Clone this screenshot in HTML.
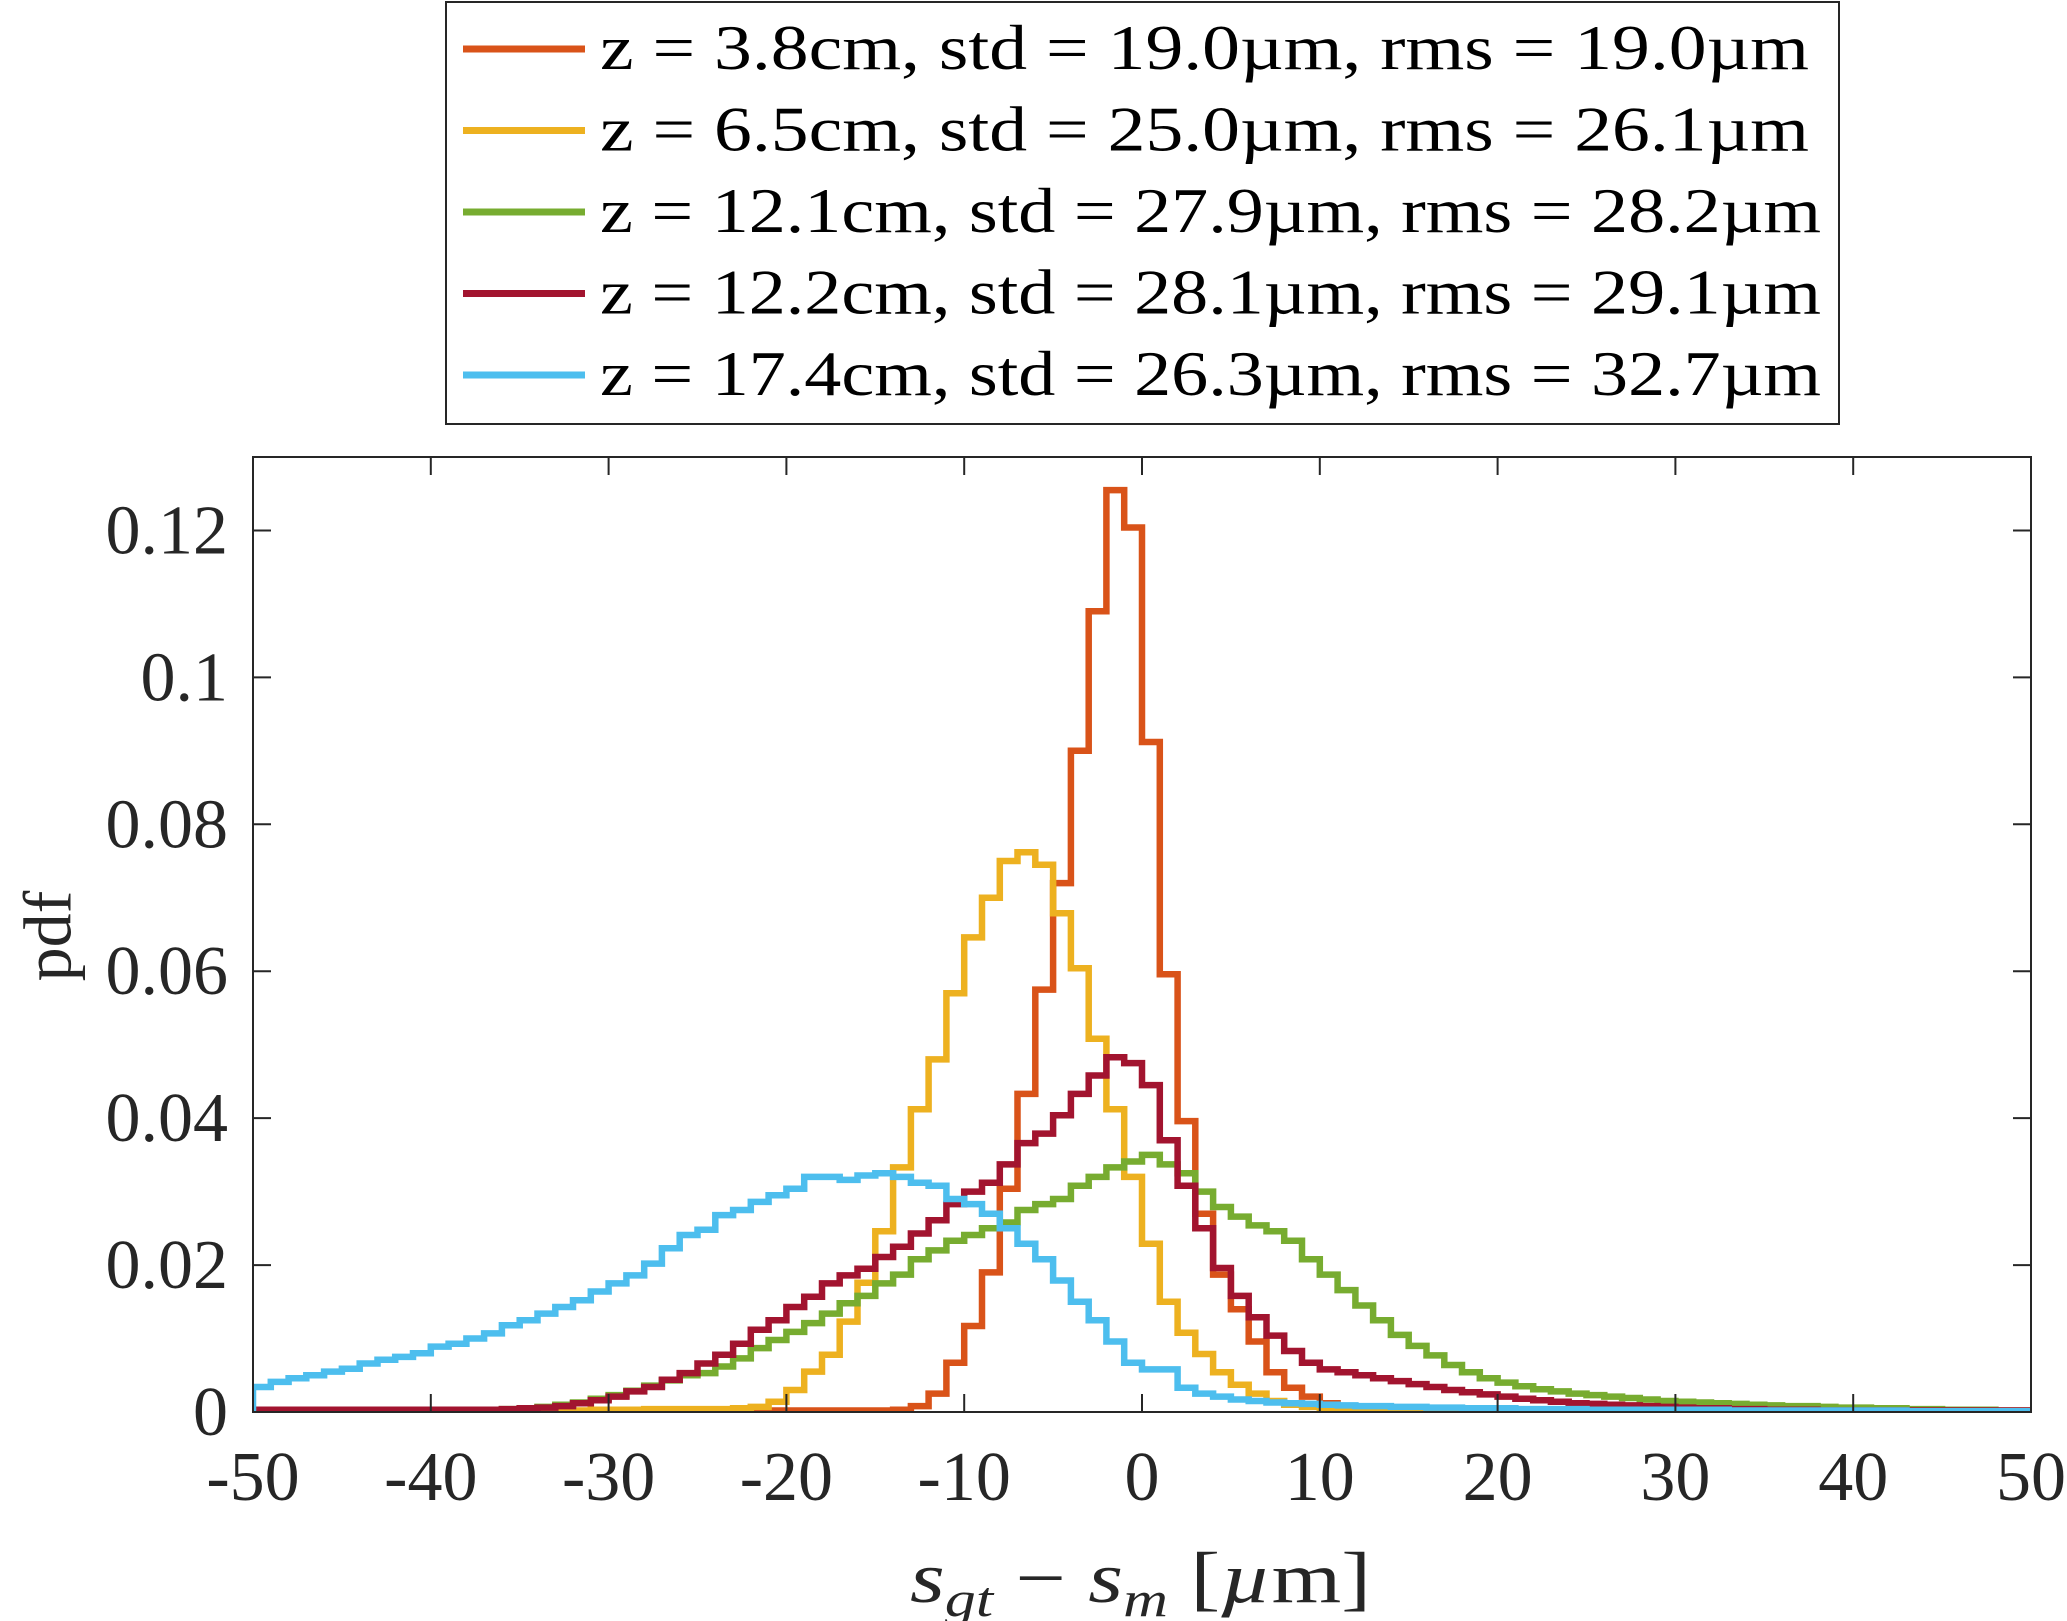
<!DOCTYPE html>
<html><head><meta charset="utf-8"><style>
html,body{margin:0;padding:0;background:#fff;}
svg{display:block;font-family:"Liberation Serif",serif;}
</style></head><body>
<svg id="chart" width="2067" height="1621" viewBox="0 0 2067 1621" xmlns="http://www.w3.org/2000/svg">
<defs><clipPath id="plotclip"><rect x="253" y="457" width="1778" height="955"/></clipPath></defs>
<rect x="0" y="0" width="2067" height="1621" fill="#fff"/>
<g id="series" clip-path="url(#plotclip)"></g>
<rect x="253" y="457" width="1778" height="955" fill="none" stroke="#262626" stroke-width="2"/>
<g id="ticks"></g>
<text x="55" y="936" font-size="68" fill="#262626" text-anchor="middle" dominant-baseline="middle" transform="rotate(-90 55 936)">pdf</text>
<text x="910" y="1602" font-size="72" fill="#262626" textLength="461" lengthAdjust="spacingAndGlyphs"><tspan font-style="italic">s</tspan><tspan font-style="italic" font-size="50" dy="14">gt</tspan><tspan dy="-14"> − </tspan><tspan font-style="italic">s</tspan><tspan font-style="italic" font-size="50" dy="14">m</tspan><tspan dy="-14"> [</tspan><tspan font-style="italic">µ</tspan><tspan>m]</tspan></text>
<g id="legend">
<rect x="446" y="2" width="1393" height="422" fill="#fff" stroke="#262626" stroke-width="2"/>
</g>
</svg>
<script>
const binStart = -50;
const binWidth = 1;
const xTicks = [-50,-40,-30,-20,-10,0,10,20,30,40,50];
const xTickLabels = ["-50","-40","-30","-20","-10","0","10","20","30","40","50"];
const yTicks = [0,0.02,0.04,0.06,0.08,0.1,0.12];
const yTickLabels = ["0","0.02","0.04","0.06","0.08","0.1","0.12"];
const seriesNames = ["z = 3.8cm,  std = 19.0µm, rms = 19.0µm","z = 6.5cm,  std = 25.0µm, rms = 26.1µm","z = 12.1cm, std = 27.9µm, rms = 28.2µm","z = 12.2cm, std = 28.1µm, rms = 29.1µm","z = 17.4cm, std = 26.3µm, rms = 32.7µm"];
const seriesColors = ["#D95319","#EDB120","#77AC30","#A2142F","#4DBEEE"];
const orangeValues = [
0.0001,0.0001,0.0001,0.0001,0.0001,0.0001,0.0001,0.0001,0.0001,0.0001,
0.0001,0.0001,0.0001,0.0001,0.0001,0.0001,0.0001,0.0001,0.0001,0.0001,
0.0001,0.0001,0.0001,0.0001,0.0001,0.0001,0.0002,0.0002,0.0002,0.0002,
0.0002,0.0002,0.0002,0.0002,0.0002,0.0002,0.0003,0.0008,0.0025,0.0067,
0.0117,0.019,0.0304,0.0433,0.0575,0.072,0.090,0.109,0.1255,0.1204,
0.0912,0.0596,0.0396,0.027,0.0187,0.014,0.0096,0.0054,0.0033,0.0021,
0.0012,0.0007,0.0004,0.0003,0.0003,0.0002,0.0002,0.0002,0.0002,0.0002,
0.0002,0.0002,0.0001,0.0001,0.0001,0.0001,0.0001,0.0001,0.0001,0.0001,
0.0001,0.0001,0.0001,0.0001,0.0001,0.0001,0.0001,0.0001,0.0001,0.0001,
0.0001,0.0001,0.0001,0.0001,0.0001,0.0001,0.0001,0.0001,0.0001,0.0001];
const yellowValues = [
0.0001,0.0001,0.0001,0.0001,0.0001,0.0001,0.0001,0.0001,0.0001,0.0001,
0.0001,0.0001,0.0001,0.0001,0.0001,0.0002,0.0002,0.0002,0.0002,0.0003,
0.0003,0.0003,0.0004,0.0004,0.0004,0.0004,0.0004,0.0005,0.0007,0.0014,
0.003,0.0055,0.0078,0.0123,0.0176,0.0246,0.0333,0.0412,0.048,0.057,
0.0646,0.070,0.075,0.0762,0.0745,0.0679,0.0604,0.0508,0.0412,0.032,
0.0229,0.015,0.0108,0.0079,0.0054,0.0037,0.0025,0.0015,0.001,0.0007,
0.0005,0.0004,0.0003,0.0003,0.0002,0.0002,0.0002,0.0002,0.0002,0.0002,
0.0002,0.0002,0.0002,0.0002,0.0002,0.0001,0.0001,0.0001,0.0001,0.0001,
0.0001,0.0001,0.0001,0.0001,0.0001,0.0001,0.0001,0.0001,0.0001,0.0001,
0.0001,0.0001,0.0001,0.0001,0.0001,0.0001,0.0001,0.0001,0.0001,0.0001];
const greenValues = [
0.0002,0.0002,0.0002,0.0002,0.0002,0.0002,0.0002,0.0002,0.0002,0.0002,
0.0002,0.0002,0.0003,0.0003,0.0004,0.0005,0.0007,0.0010,0.0013,0.0018,
0.0023,0.0029,0.0036,0.0043,0.005,0.0053,0.0062,0.0073,0.0087,0.0098,
0.0109,0.0121,0.0134,0.0148,0.0158,0.0175,0.0187,0.0208,0.022,0.0233,
0.0241,0.025,0.0258,0.0275,0.0283,0.029,0.0308,0.032,0.0333,0.0341,
0.035,0.0337,0.0325,0.030,0.0279,0.0266,0.0254,0.0246,0.0233,0.0208,
0.0187,0.0166,0.0145,0.0125,0.0105,0.009,0.0077,0.0064,0.0054,0.0046,
0.0040,0.0035,0.0031,0.0028,0.0025,0.0023,0.0021,0.0019,0.0017,0.0015,
0.0014,0.0013,0.0012,0.0011,0.0010,0.0009,0.0008,0.0008,0.0007,0.0006,
0.0006,0.0005,0.0005,0.0004,0.0004,0.0003,0.0003,0.0003,0.0002,0.0002];
const redValues = [
0.0003,0.0003,0.0003,0.0003,0.0003,0.0003,0.0003,0.0003,0.0003,0.0003,
0.0003,0.0003,0.0003,0.0003,0.0004,0.0005,0.0006,0.0008,0.0012,0.0016,
0.0021,0.0028,0.0034,0.0044,0.0053,0.0066,0.0078,0.0093,0.0112,0.0125,
0.0143,0.0157,0.0175,0.0186,0.0195,0.0211,0.0225,0.0243,0.0261,0.0283,
0.030,0.0312,0.0337,0.0366,0.0379,0.0404,0.0433,0.0458,0.0483,0.0475,
0.0445,0.037,0.0308,0.025,0.0196,0.0158,0.0129,0.0104,0.0083,0.0067,
0.0058,0.0054,0.005,0.0046,0.0042,0.0038,0.0034,0.003,0.0027,0.0024,
0.0021,0.0018,0.0016,0.0014,0.0012,0.0011,0.001,0.0009,0.0008,0.0007,
0.0006,0.0005,0.0005,0.0004,0.0004,0.0003,0.0003,0.0003,0.0002,0.0002,
0.0002,0.0002,0.0002,0.0002,0.0002,0.0002,0.0002,0.0002,0.0002,0.0002];
const blueValues = [
0.0034,0.0041,0.0046,0.005,0.0055,0.0059,0.0066,0.0071,0.0075,0.008,
0.0089,0.0093,0.01,0.0107,0.0118,0.0125,0.0134,0.0143,0.0152,0.0164,
0.0175,0.0186,0.0202,0.0223,0.0241,0.0248,0.0268,0.0275,0.0286,0.0295,
0.0304,0.032,0.032,0.0316,0.0322,0.0325,0.032,0.0312,0.0308,0.029,
0.0283,0.027,0.025,0.0229,0.0208,0.0179,0.015,0.0125,0.0096,0.0067,
0.0058,0.0058,0.0033,0.0025,0.0021,0.0017,0.0015,0.0013,0.0012,0.0011,
0.001,0.0009,0.0008,0.0008,0.0007,0.0007,0.0006,0.0006,0.0005,0.0005,
0.0005,0.0004,0.0004,0.0004,0.0004,0.0003,0.0003,0.0003,0.0003,0.0003,
0.0003,0.0003,0.0003,0.0002,0.0002,0.0002,0.0002,0.0002,0.0002,0.0002,
0.0002,0.0002,0.0002,0.0001,0.0001,0.0001,0.0001,0.0001,0.0001,0.0001];
const allSeries = [orangeValues,yellowValues,greenValues,redValues,blueValues];
const seriesKeys = ["orange","yellow","green","red","blue"];

const NS = "http://www.w3.org/2000/svg";
const X0 = 253, X1 = 2031, Y0 = 1412, Y1 = 457;
const xMin = -50, xMax = 50, yMin = 0, yMax = 0.13;
function xs(v){ return X0 + (v - xMin) / (xMax - xMin) * (X1 - X0); }
function ys(v){ return Y0 - (v - yMin) / (yMax - yMin) * (Y0 - Y1); }
const seriesG = document.getElementById('series');
allSeries.forEach((vals, si) => {
  let d = "M" + xs(binStart) + " " + ys(0);
  vals.forEach((v, i) => {
    const a = binStart + i * binWidth, b = a + binWidth;
    d += " L" + xs(a).toFixed(1) + " " + ys(v).toFixed(1) + " L" + xs(b).toFixed(1) + " " + ys(v).toFixed(1);
  });
  d += " L" + xs(binStart + vals.length * binWidth) + " " + ys(0);
  const p = document.createElementNS(NS, 'path');
  p.setAttribute('d', d);
  p.setAttribute('fill', 'none');
  p.setAttribute('stroke', seriesColors[si]);
  p.setAttribute('stroke-width', '6.5');
  p.setAttribute('stroke-linejoin', 'miter');
  
  
  seriesG.appendChild(p);
});
const tg = document.getElementById('ticks');
xTicks.forEach((t, i) => {
  const x = xs(t);
  const l1 = document.createElementNS(NS, 'line');
  l1.setAttribute('x1', x); l1.setAttribute('x2', x); l1.setAttribute('y1', Y0); l1.setAttribute('y2', Y0 - 18);
  l1.setAttribute('stroke', '#262626'); l1.setAttribute('stroke-width', '2');
  
  
  tg.appendChild(l1);
  const l2 = document.createElementNS(NS, 'line');
  l2.setAttribute('x1', x); l2.setAttribute('x2', x); l2.setAttribute('y1', Y1); l2.setAttribute('y2', Y1 + 18);
  l2.setAttribute('stroke', '#262626'); l2.setAttribute('stroke-width', '2');
  
  
  tg.appendChild(l2);
  const tx = document.createElementNS(NS, 'text');
  tx.setAttribute('x', x); tx.setAttribute('y', 1500);
  tx.setAttribute('font-size', '70'); tx.setAttribute('fill', '#262626'); tx.setAttribute('text-anchor', 'middle');
  tx.textContent = xTickLabels[i];
  
  
  tg.appendChild(tx);
});
yTicks.forEach((t, i) => {
  const y = ys(t);
  const l1 = document.createElementNS(NS, 'line');
  l1.setAttribute('x1', X0); l1.setAttribute('x2', X0 + 18); l1.setAttribute('y1', y); l1.setAttribute('y2', y);
  l1.setAttribute('stroke', '#262626'); l1.setAttribute('stroke-width', '2');
  
  
  tg.appendChild(l1);
  const l2 = document.createElementNS(NS, 'line');
  l2.setAttribute('x1', X1); l2.setAttribute('x2', X1 - 18); l2.setAttribute('y1', y); l2.setAttribute('y2', y);
  l2.setAttribute('stroke', '#262626'); l2.setAttribute('stroke-width', '2');
  
  
  tg.appendChild(l2);
  const tx = document.createElementNS(NS, 'text');
  tx.setAttribute('x', 228); tx.setAttribute('y', y + 23);
  tx.setAttribute('font-size', '70'); tx.setAttribute('fill', '#262626'); tx.setAttribute('text-anchor', 'end');
  tx.textContent = yTickLabels[i];
  
  
  tg.appendChild(tx);
});
const lg = document.getElementById('legend');
const legendEnds = [1809, 1809, 1821, 1821, 1821];
seriesNames.forEach((name, i) => {
  const cy = 49 + i * 81.5;
  const ln = document.createElementNS(NS, 'line');
  ln.setAttribute('x1', 463); ln.setAttribute('x2', 585); ln.setAttribute('y1', cy); ln.setAttribute('y2', cy);
  ln.setAttribute('stroke', seriesColors[i]); ln.setAttribute('stroke-width', '7');
  
  
  lg.appendChild(ln);
  const tx = document.createElementNS(NS, 'text');
  tx.setAttribute('x', 600); tx.setAttribute('y', cy + 20);
  tx.setAttribute('font-size', '64'); tx.setAttribute('fill', '#000');
  tx.setAttribute('textLength', legendEnds[i] - 600); tx.setAttribute('lengthAdjust', 'spacingAndGlyphs');
  tx.setAttribute('xml:space', 'preserve');
  tx.textContent = name;
  
  
  lg.appendChild(tx);
});
</script>
</body></html>
